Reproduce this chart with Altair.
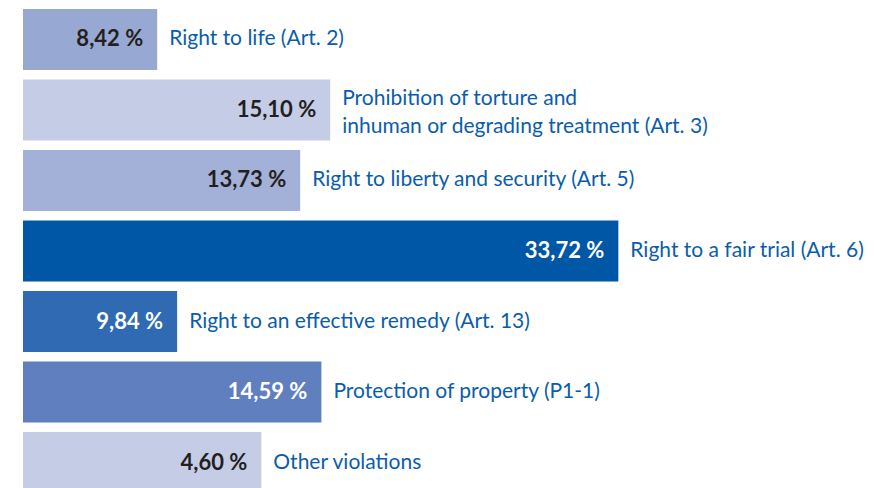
import altair as alt
import pandas as pd

# Printed shares (labels inside bars)
categories = [
    "Right to life (Art. 2)",
    "Prohibition of torture and|inhuman or degrading treatment (Art. 3)",
    "Right to liberty and security (Art. 5)",
    "Right to a fair trial (Art. 6)",
    "Right to an effective remedy (Art. 13)",
    "Protection of property (P1-1)",
    "Other violations",
]
share_labels = ["8,42 %", "15,10 %", "13,73 %", "33,72 %", "9,84 %", "14,59 %", "4,60 %"]
shares = [8.42, 15.10, 13.73, 33.72, 9.84, 14.59, 4.60]
# Bar lengths as drawn in the infographic (not to scale with the shares), in % units
bar_lengths = [7.6, 17.4, 15.7, 33.72, 8.73, 16.9, 13.5]
bar_colors = ["#97A8D3", "#C5CCE6", "#A3B0D8", "#0057A6", "#2F6AB2", "#5F7FBE", "#C5CCE6"]
value_colors = ["#231F20", "#231F20", "#231F20", "#FFFFFF", "#FFFFFF", "#FFFFFF", "#231F20"]

df = pd.DataFrame({
    "category": categories,
    "label": share_labels,
    "share": shares,
    "length": bar_lengths,
    "bar_color": bar_colors,
    "value_color": value_colors,
})
df["multiline"] = df["category"].str.contains(r"\|")

FONT = "Lato"

y_enc = alt.Y("category:N", sort=categories, axis=None,
              scale=alt.Scale(range=[9, 493], paddingInner=0.135, paddingOuter=0))
x_enc = alt.X("length:Q", axis=None, scale=alt.Scale(domain=[0, 48.2], nice=False))

base = alt.Chart(df)

bars = base.mark_bar(cornerRadius=0).encode(
    x=x_enc, y=y_enc,
    color=alt.Color("bar_color:N", scale=None),
)

values = base.mark_text(align="right", baseline="middle", dx=-14, fontSize=22,
                        fontWeight="bold", font=FONT).encode(
    x=x_enc, y=y_enc, text="label:N",
    color=alt.Color("value_color:N", scale=None),
)

name_style = dict(align="left", baseline="middle", dx=12, fontSize=21,
                  font=FONT, color="#0B5DAA", lineBreak="|", lineHeight=28)

names = base.transform_filter("!datum.multiline").mark_text(**name_style).encode(
    x=x_enc, y=y_enc, text="category:N",
)
names_multi = base.transform_filter("datum.multiline").mark_text(dy=-11, **name_style).encode(
    x=x_enc, y=y_enc, text="category:N",
)

chart = alt.layer(bars, values, names, names_multi).properties(
    width=851, height=488,
    padding={"left": 23, "top": 0, "right": 0, "bottom": 0},
    autosize=alt.AutoSizeParams(type="none"),
).configure_view(stroke=None)

chart.save("out.html", embed_options={"renderer": "svg", "actions": False})
